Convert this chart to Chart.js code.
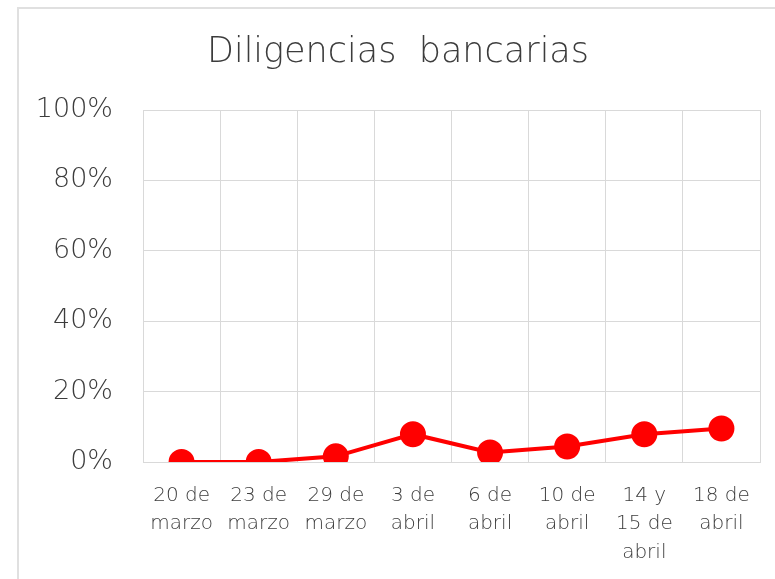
<!DOCTYPE html>
<html>
<head>
<meta charset="utf-8">
<script src="https://cdn.jsdelivr.net/npm/chart.js@4"></script>
<style>
  body { margin: 0; background: #fff; }
  #wrap { position: relative; width: 775px; height: 579px; }
  #frame { position: absolute; left: 17px; top: 7px; width: 790px; height: 600px; border: 2px solid #e0e0e0; box-sizing: border-box; pointer-events: none; }
</style>
</head>
<body>
<div id="wrap">
  <canvas id="chart" width="775" height="579"></canvas>
  <div id="frame"></div>
</div>
<script>
const title = "Diligencias  bancarias";
const labels = [
    ["20 de", "marzo"],
    ["23 de", "marzo"],
    ["29 de", "marzo"],
    ["3 de", "abril"],
    ["6 de", "abril"],
    ["10 de", "abril"],
    ["14 y", "15 de", "abril"],
    ["18 de", "abril"]
];
const values = [0, 0, 1.6, 7.9, 2.7, 4.4, 7.9, 9.5];
const yTicks = [0, 20, 40, 60, 80, 100];

const gray = "#3c3c3c";
const fontFamily = "'DejaVu Sans', sans-serif";

const ctx = document.getElementById("chart").getContext("2d");
new Chart(ctx, {
    type: "line",
    data: {
        labels: labels,
        datasets: [{
            label: title,
            data: values,
            borderColor: "#ff0000",
            backgroundColor: "#ff0000",
            borderWidth: 4,
            pointRadius: 11,
            pointBackgroundColor: "#ff0000",
            pointBorderColor: "#ff0000",
            tension: 0
        }]
    },
    options: {
        responsive: false,
        animation: false,
        layout: { padding: { left: 30, right: 9, top: 0, bottom: 0 } },
        plugins: {
            legend: { display: false },
            tooltip: { enabled: false },
            title: {
                display: true,
                text: title,
                color: gray,
                font: { family: fontFamily, size: 35, weight: 200 },
                padding: { top: 32, bottom: 36 }
            }
        },
        scales: {
            x: {
                offset: true,
                grid: { offset: true, color: "#d9d9d9", drawTicks: false },
                border: { color: "#d9d9d9" },
                ticks: {
                    color: gray,
                    font: { family: fontFamily, size: 20, weight: 200, lineHeight: 1.43 },
                    padding: 19,
                    maxRotation: 0,
                    autoSkip: false
                },
                afterFit: s => { s.height = 117; }
            },
            y: {
                min: 0,
                max: 100,
                afterBuildTicks: s => { s.ticks = yTicks.map(v => ({ value: v })); },
                grid: { color: "#d9d9d9", drawTicks: false },
                border: { color: "#d9d9d9" },
                ticks: {
                    color: gray,
                    font: { family: fontFamily, size: 27, weight: 200 },
                    padding: 30,
                    callback: v => v + "%"
                },
                afterFit: s => { s.width = 113; }
            }
        }
    }
});
</script>
</body>
</html>
